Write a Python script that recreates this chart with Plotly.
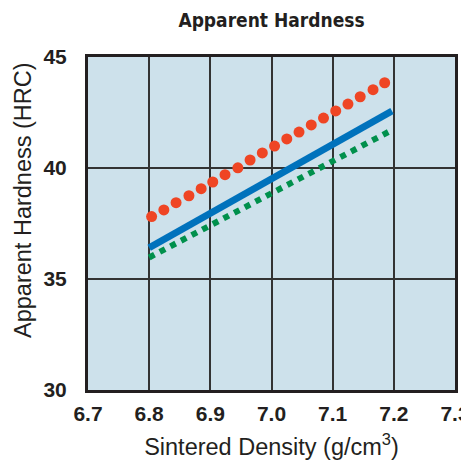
import plotly.graph_objects as go

# Red dotted series (each dot)
red_x = [6.804, 6.824, 6.844, 6.865, 6.885, 6.904, 6.924, 6.945, 6.965, 6.985,
         7.005, 7.025, 7.045, 7.065, 7.085, 7.105, 7.125, 7.145, 7.166, 7.185]
red_y = [37.81, 38.11, 38.44, 38.75, 39.07, 39.37, 39.70, 40.01, 40.36, 40.68,
         40.99, 41.31, 41.62, 41.94, 42.25, 42.57, 42.88, 43.21, 43.53, 43.84]

# Blue solid series
blue_x = [6.8, 7.197]
blue_y = [36.41, 42.57]

# Green dashed series
green_x = [6.8, 7.195]
green_y = [35.97, 41.68]

x_ticks = [6.7, 6.8, 6.9, 7.0, 7.1, 7.2, 7.3]
x_labels = ["6.7", "6.8", "6.9", "7.0", "7.1", "7.2", "7.3"]
y_ticks = [30, 35, 40, 45]

title_font = "DejaVu Sans Condensed, Liberation Sans Narrow, Arial Narrow, sans-serif"
tick_font = "Liberation Sans, Arial, Helvetica, sans-serif"
reg_font = "Liberation Sans, Arial, Helvetica, sans-serif"

# page body has an 8px margin, so the figure is slightly smaller than the window
W, H = 461, 458
ML, MR, MT, MB = 80, 14, 49, 76
PW, PH = W - ML - MR, H - MT - MB

fig = go.Figure()
fig.add_trace(go.Scatter(x=green_x, y=green_y, mode="lines",
                         line=dict(color="#00904c", width=6, dash="dot")))
fig.add_trace(go.Scatter(x=blue_x, y=blue_y, mode="lines",
                         line=dict(color="#0072bc", width=7)))
fig.add_trace(go.Scatter(x=red_x, y=red_y, mode="markers",
                         marker=dict(color="#ef4524", size=11, line=dict(width=0))))

fig.update_layout(
    width=W, height=H,
    margin=dict(l=ML, r=MR, t=MT, b=MB, autoexpand=False),
    paper_bgcolor="white",
    plot_bgcolor="#cde1eb",
    showlegend=False,
    title=dict(text="<b>Apparent Hardness</b>", x=263.5 / W, xanchor="center",
               y=1 - 12 / H, yanchor="middle",
               font=dict(family=title_font, size=19, color="#231f20")),
    annotations=[dict(
        text="Apparent Hardness (HRC)", textangle=-90, showarrow=False,
        xref="paper", yref="paper",
        x=(15 - ML) / PW, y=(H - MB - 192) / PH,
        xanchor="center", yanchor="middle",
        font=dict(family=reg_font, size=23.5, color="#231f20"),
    )],
)
fig.update_xaxes(
    range=[6.7, 7.3], tickvals=x_ticks, ticktext=["<b>%s</b>" % t for t in x_labels],
    tickfont=dict(family=tick_font, size=21, color="#231f20"),
    ticklabeloverflow="allow", ticklabelstandoff=3, automargin=False,
    showgrid=True, gridcolor="#333333", gridwidth=1.5,
    showline=True, linecolor="#231f20", linewidth=3, mirror=True,
    ticks="", ticklen=0, zeroline=False,
    title=dict(text="Sintered Density (g/cm<sup>3</sup>)",
               font=dict(family=reg_font, size=23.5, color="#231f20"), standoff=15),
)
fig.update_yaxes(
    range=[30, 45], tickvals=y_ticks, ticktext=["<b>%d</b>" % t for t in y_ticks],
    tickfont=dict(family=tick_font, size=21, color="#231f20"),
    ticklabeloverflow="allow", ticklabelstandoff=14, automargin=False,
    showgrid=True, gridcolor="#333333", gridwidth=1.5,
    showline=True, linecolor="#231f20", linewidth=3, mirror=True,
    ticks="", ticklen=0, zeroline=False,
)

fig.write_html("out.html")
